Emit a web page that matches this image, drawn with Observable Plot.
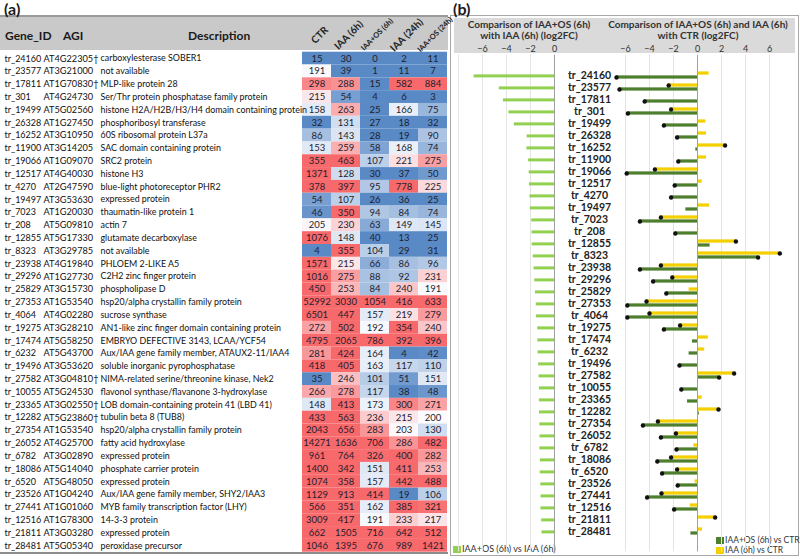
<!DOCTYPE html>
<html><head><meta charset="utf-8">
<script src="https://cdn.jsdelivr.net/npm/d3@7"></script>
<script src="https://cdn.jsdelivr.net/npm/@observablehq/plot@0.6"></script>
<style>
body{margin:0;background:#fff;}
#root{position:relative;width:800px;height:559px;overflow:hidden;font-family:Lato,"Open Sans",sans-serif;color:#1a1a1a;}
.abs{position:absolute;white-space:nowrap;line-height:1.15;}
#root svg{position:absolute;top:0;}
</style></head><body><div id="root">
<div class="abs" style="left:0;top:15px;width:448px;height:33px;background:#c9c9c9;border-top:2px solid #9a9a9a;"></div>
<div class="abs" style="left:0;top:552px;width:448px;height:0;border-top:2px solid #8c8c8c;"></div>
<div class="abs" style="left:450px;top:15px;width:347px;height:539px;border:1px solid #a8a8a8;"></div>
<div class="abs" style="left:454px;top:18px;width:341px;height:35px;background:#dadada;"></div>
<div class="abs" style="left:4px;top:0px;font-size:16px;font-weight:bold;">(a)</div>
<div class="abs" style="left:453px;top:0px;font-size:16px;font-weight:bold;">(b)</div>
<div class="abs" style="left:5px;top:29px;font-size:12px;font-weight:bold;">Gene_ID</div>
<div class="abs" style="left:63px;top:29px;font-size:12px;font-weight:bold;">AGI</div>
<div class="abs" style="left:188px;top:29px;font-size:12px;font-weight:bold;">Description</div>
<div class="abs" style="left:459px;top:19px;width:140px;text-align:center;font-size:10px;font-weight:bold;line-height:11px;color:#333;">Comparison of IAA+OS (6h)<br>with IAA (6h) (log2FC)</div>
<div class="abs" style="left:598px;top:19px;width:200px;text-align:center;font-size:10px;font-weight:bold;line-height:11px;color:#333;">Comparison of IAA+OS (6h) and IAA (6h)<br>with CTR (log2FC)</div>
<div class="abs" style="left:453px;top:546px;width:8px;height:7px;background:#92D050;"></div>
<div class="abs" style="left:462px;top:544px;font-size:9px;color:#333;">IAA+OS (6h) vs IAA (6h)</div>
<div class="abs" style="left:716px;top:537px;width:8px;height:7px;background:#4E7F2E;"></div>
<div class="abs" style="left:725px;top:534.5px;font-size:8.5px;line-height:10px;color:#333;">IAA+OS (6h) vs CTR</div>
<div class="abs" style="left:716px;top:547px;width:8px;height:7px;background:#F4D000;"></div>
<div class="abs" style="left:725px;top:544.5px;font-size:8.5px;line-height:10px;color:#333;">IAA (6h) vs CTR</div>
</div>
<script>
const genes = ["tr_24160","tr_23577","tr_17811","tr_301","tr_19499","tr_26328","tr_16252","tr_11900","tr_19066","tr_12517","tr_4270","tr_19497","tr_7023","tr_208","tr_12855","tr_8323","tr_23938","tr_29296","tr_25829","tr_27353","tr_4064","tr_19275","tr_17474","tr_6232","tr_19496","tr_27582","tr_10055","tr_23365","tr_12282","tr_27354","tr_26052","tr_6782","tr_18086","tr_6520","tr_23526","tr_27441","tr_12516","tr_21811","tr_28481"];
const agi = ["AT4G22305\u2020","AT3G21000","AT1G70830\u2020","AT4G24730","AT5G02560","AT1G27450","AT3G10950","AT3G14205","AT1G09070","AT4G40030","AT2G47590","AT3G53630","AT1G20030","AT5G09810","AT5G17330","AT3G29785","AT4G19840","AT1G27730","AT3G15730","AT1G53540","AT4G02280","AT3G28210","AT5G58250","AT5G43700","AT3G53620","AT3G04810\u2020","AT5G24530","AT3G02550\u2020","AT5G23860\u2020","AT1G53540","AT4G25700","AT3G02890","AT5G14040","AT5G48050","AT1G04240","AT1G01060","AT1G78300","AT3G03280","AT5G05340"];
const descriptions = ["carboxylesterase SOBER1","not available","MLP-like protein 28","Ser/Thr protein phosphatase family protein","histone H2A/H2B/H3/H4 domain containing protein","phosphoribosyl transferase","60S ribosomal protein L37a","SAC domain containing protein","SRC2 protein","histone H3","blue-light photoreceptor PHR2","expressed protein","thaumatin-like protein 1","actin 7","glutamate decarboxylase","not available","PHLOEM 2-LIKE A5","C2H2 zinc finger protein","phospholipase D","hsp20/alpha crystallin family protein","sucrose synthase","AN1-like zinc finger domain containing protein","EMBRYO DEFECTIVE 3143, LCAA/YCF54","Aux/IAA gene family member, ATAUX2-11/IAA4","soluble inorganic pyrophosphatase","NIMA-related serine/threonine kinase, Nek2","flavonol synthase/flavanone 3-hydroxylase","LOB domain-containing protein 41 (LBD 41)","tubulin beta 8 (TUB8)","hsp20/alpha crystallin family protein","fatty acid hydroxylase","expressed protein","phosphate carrier protein","expressed protein","Aux/IAA gene family member, SHY2/IAA3","MYB family transcription factor (LHY)","14-3-3 protein","expressed protein","peroxidase precursor"];
const columns = ["CTR","IAA (6h)","IAA+OS (6h)","IAA (24h)","IAA+OS (24h)"];
const ctr    = [15,191,298,215,158,32,86,153,355,1371,378,54,46,205,1076,4,1571,1016,450,52992,6501,272,4795,281,418,35,266,148,433,2043,14271,961,1400,1074,1129,566,3009,662,1046];
const iaa6   = [30,39,288,54,263,131,143,259,463,128,397,107,350,230,148,355,215,275,253,3030,447,502,2065,424,405,246,278,413,563,656,1636,764,342,358,913,351,417,1505,1395];
const iaaos6 = [0,1,15,4,25,27,28,58,107,30,95,26,94,63,40,104,66,88,84,1054,157,192,786,164,163,101,117,173,236,283,706,326,151,157,414,162,191,716,676];
const iaa24  = [2,11,582,6,166,18,19,168,221,37,778,36,84,149,13,29,86,92,240,416,219,354,392,4,117,51,38,300,215,203,286,400,411,442,19,385,233,642,989];
const iaaos24= [11,7,884,3,75,32,90,74,275,50,225,25,74,145,25,31,96,231,191,633,279,240,396,42,110,151,48,271,200,130,482,282,253,488,106,321,217,512,1421];
// log2FC
const osVsIaa = [-6.7,-4.6,-4.26,-3.8,-3.35,-2.28,-2.3,-2.16,-2.11,-2.09,-2.05,-2.02,-1.9,-1.87,-1.86,-1.77,-1.7,-1.64,-1.59,-1.52,-1.5,-1.4,-1.39,-1.37,-1.32,-1.29,-1.26,-1.26,-1.25,-1.22,-1.21,-1.22,-1.18,-1.19,-1.14,-1.12,-1.13,-1.07,-1.04];
const osVsCtr = [-6.75,-6.5,-4.4,-5.8,-2.8,-1.7,-0.14,-1.6,-5.9,-1.9,-2.2,-0.97,-4.8,-1.85,1.05,5.05,-4.8,-3.7,-2.6,-5.85,-5.85,-2.8,-0.42,-0.7,-1.5,1.8,-1.35,-0.83,0.15,-4.55,-3.05,-1.75,-3.35,-2.95,-1.65,-4.2,-1.95,0,-0.55];
const iaaVsCtr= [0.97,-2.4,0,-2.2,0.7,0.75,2.3,0.75,-3.55,0.4,0,1.0,-3.05,0.1,3.2,6.86,-3.05,-2.1,-0.7,-4.25,-4.0,-1.45,0.9,0.6,0,3.05,0,0.4,1.75,-3.3,-1.8,-0.3,-2.2,-1.7,-0.2,-3.0,-0.6,1.47,0.42];
const sigOsVsCtr = [1,1,1,1,1,1,0,1,1,1,1,0,1,1,0,1,1,1,1,1,1,1,0,0,1,1,1,0,0,1,1,1,1,1,1,1,1,0,0];
const sigIaaVsCtr= [0,1,0,1,0,0,1,0,1,0,0,0,1,0,1,1,1,1,0,1,1,1,0,0,0,1,0,0,1,1,1,0,1,1,0,1,0,1,0];
const leftTicks = [-6,-4,-2,0];
const rightTicks = [-6,-4,-2,0,2,4,6];

const root = document.getElementById("root");
const FONT = "Lato, 'Open Sans', sans-serif";
const colFont = [10,10,7.5,10,7.5];
const seriesA = [ctr,iaa6,iaaos6,iaa24,iaaos24];
const cells = genes.flatMap((g,i)=>seriesA.map((arr,j)=>({gene:g,col:columns[j],v:arr[i]})));
const rows = genes.map((g,i)=>({gene:g,agi:agi[i],desc:descriptions[i],osIaa:osVsIaa[i],osCtr:osVsCtr[i],iaaCtr:iaaVsCtr[i],sOs:sigOsVsCtr[i],sIaa:sigIaaVsCtr[i]}));
const colHeads = columns.map((c,i)=>({col:c,fs:colFont[i]}));

const plotA = Plot.plot({
  width:448,height:559,marginTop:51.7,marginBottom:7.3,marginLeft:302,marginRight:1,
  style:{background:"transparent",fontFamily:FONT,overflow:"visible"},
  x:{domain:columns,padding:0,axis:null},
  y:{domain:genes,padding:0,axis:null},
  color:{type:"log",domain:[40,200,330],range:["#5A8AC6","#FCFCFF","#F8696B"],clamp:true},
  marks:[
    Plot.cell(cells,{x:"col",y:"gene",fill:d=>Math.max(d.v,1)}),
    Plot.text(cells,{x:"col",y:"gene",text:d=>String(d.v),fontSize:9.5,fill:"#1e1e2e"}),
    Plot.text(rows,{y:"gene",text:"gene",frameAnchor:"left",dx:-298,textAnchor:"start",fontSize:9,fill:"#111"}),
    Plot.text(rows,{y:"gene",text:"agi",frameAnchor:"left",dx:-259,textAnchor:"start",fontSize:9.2,fill:"#111"}),
    Plot.text(rows,{y:"gene",text:"desc",frameAnchor:"left",dx:-202,textAnchor:"start",fontSize:8.9,fill:"#111"}),
    Plot.text(colHeads,{x:"col",text:"col",fontSize:"fs",frameAnchor:"top",dy:-19.7,rotate:-45,fontWeight:"bold",fill:"#222"})
  ]
});
plotA.style.left = "0px";
root.appendChild(plotA);

const plotBL = Plot.plot({
  width:150,height:559,marginTop:54.6,marginBottom:7.6,marginLeft:6,marginRight:48,
  style:{background:"transparent",fontFamily:FONT,overflow:"visible"},
  x:{domain:[-8,0],axis:null},
  y:{domain:genes,padding:0,axis:null},
  marks:[
    Plot.ruleX([-8,-6,-4,-2],{stroke:"#e4e4e4"}),
    Plot.barX(rows,{x:"osIaa",y:"gene",fill:"#92D050",insetTop:5.4,insetBottom:3.6}),
    Plot.ruleX([0],{stroke:"#a0a0a0"}),
    Plot.axisX(leftTicks,{anchor:"top",label:null,tickSize:0,tickPadding:3,fontSize:9,fill:"#333"})
  ]
});
plotBL.style.left = "452px";
root.appendChild(plotBL);

const plotBR = Plot.plot({
  width:240,height:559,marginTop:54.6,marginBottom:7.6,marginLeft:41,marginRight:7,
  style:{background:"transparent",fontFamily:FONT,overflow:"visible"},
  x:{domain:[-8,8],axis:null},
  y:{domain:genes,padding:0,axis:null},
  marks:[
    Plot.ruleX(rightTicks.filter(t=>t!==0),{stroke:"#e4e4e4"}),
    Plot.barX(rows,{x:"iaaCtr",y:"gene",fill:"#F4D000",insetTop:2.4,insetBottom:6.37}),
    Plot.barX(rows,{x:"osCtr",y:"gene",fill:"#4E7F2E",insetTop:6.37,insetBottom:2.4}),
    Plot.ruleX([0],{stroke:"#a0a0a0"}),
    Plot.dot(rows.filter(d=>d.sIaa),{x:"iaaCtr",y:"gene",dy:-2,r:2.2,fill:"#111"}),
    Plot.dot(rows.filter(d=>d.sOs),{x:"osCtr",y:"gene",dy:2,r:2.2,fill:"#111"}),
    Plot.text(rows,{y:"gene",text:"gene",frameAnchor:"left",dx:-12,textAnchor:"middle",fontSize:10.5,fontWeight:"bold",fill:"#222"}),
    Plot.axisX(rightTicks,{anchor:"top",label:null,tickSize:0,tickPadding:3,fontSize:9,fill:"#333"})
  ]
});
plotBR.style.left = "560px";
root.appendChild(plotBR);
</script>
</body></html>
